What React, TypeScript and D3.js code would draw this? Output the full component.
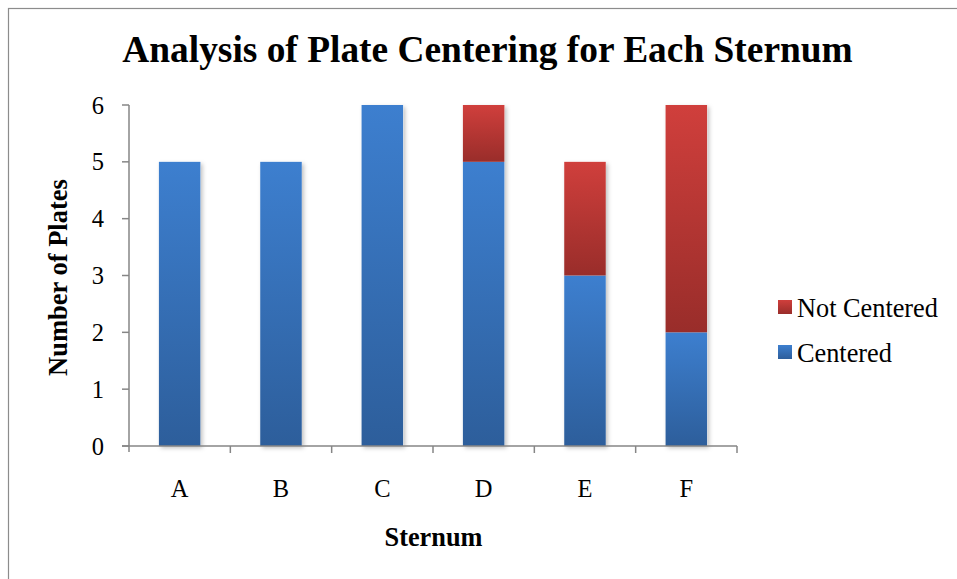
import React, { useEffect, useRef } from "react";
import * as d3 from "d3";

const categories = ["A", "B", "C", "D", "E", "F"];
const centered = [5, 5, 6, 5, 3, 2];
const notCentered = [0, 0, 0, 1, 2, 4];
const yTicks = [0, 1, 2, 3, 4, 5, 6];
const seriesNames = ["Centered", "Not Centered"];

const width = 957;
const height = 579;
const serif = "'Liberation Serif', 'Times New Roman', serif";

const App = () => {
  const ref = useRef<SVGSVGElement>(null);

  useEffect(() => {
    const svg = d3.select(ref.current);
    svg.selectAll("*").remove();

    const defs = svg.append("defs");
    const grad = (id: string, top: string, bottom: string) => {
      const g = defs
        .append("linearGradient")
        .attr("id", id)
        .attr("x1", 0)
        .attr("y1", 0)
        .attr("x2", 0)
        .attr("y2", 1);
      g.append("stop").attr("offset", "0%").attr("stop-color", top);
      g.append("stop").attr("offset", "100%").attr("stop-color", bottom);
    };
    grad("blueGrad", "#3d7fcf", "#2d5e9b");
    grad("redGrad", "#d03f3c", "#992d2a");

    const shadow = defs
      .append("filter")
      .attr("id", "barShadow")
      .attr("x", "-20%")
      .attr("y", "-5%")
      .attr("width", "150%")
      .attr("height", "115%");
    shadow
      .append("feDropShadow")
      .attr("dx", 2)
      .attr("dy", 2)
      .attr("stdDeviation", 2)
      .attr("flood-color", "#000")
      .attr("flood-opacity", 0.25);

    // outer frame
    svg
      .append("rect")
      .attr("x", 8.5)
      .attr("y", 8.5)
      .attr("width", width + 20)
      .attr("height", height + 20)
      .attr("fill", "white")
      .attr("stroke", "#8c8c8c")
      .attr("stroke-width", 1.2);

    const x0 = 129;
    const x1 = 737;
    const yBottom = 446;
    const yTop = 105;

    const x = d3.scaleBand<string>().domain(categories).range([x0, x1]).paddingInner(0.59).paddingOuter(0.295);
    const band = d3.scaleBand<string>().domain(categories).range([x0, x1]);
    const y = d3.scaleLinear().domain([0, 6]).range([yBottom, yTop]);

    // title
    svg
      .append("text")
      .attr("x", 487.5)
      .attr("y", 62)
      .attr("text-anchor", "middle")
      .attr("font-family", serif)
      .attr("font-weight", "bold")
      .attr("font-size", 37.4)
      .text("Analysis of Plate Centering for Each Sternum");

    // bars
    const stackData = categories.map((c, i) => ({ cat: c, Centered: centered[i], "Not Centered": notCentered[i] }));
    const stack = d3.stack<any>().keys(seriesNames)(stackData);
    const fills = ["url(#blueGrad)", "url(#redGrad)"];

    const totals = categories.map((_, i) => centered[i] + notCentered[i]);
    svg
      .append("g")
      .selectAll("rect")
      .data(categories)
      .enter()
      .append("rect")
      .attr("x", (d) => x(d)!)
      .attr("width", x.bandwidth())
      .attr("y", (_, i) => y(totals[i]))
      .attr("height", (_, i) => y(0) - y(totals[i]))
      .attr("fill", "white")
      .attr("filter", "url(#barShadow)");

    stack.forEach((layer, li) => {
      svg
        .append("g")
        .selectAll("rect")
        .data(layer.filter((d) => d[1] - d[0] > 0))
        .enter()
        .append("rect")
        .attr("x", (d) => x(d.data.cat)!)
        .attr("width", x.bandwidth())
        .attr("y", (d) => y(d[1]))
        .attr("height", (d) => y(d[0]) - y(d[1]))
        .attr("fill", fills[li]);
    });

    // y axis
    const axisColor = "#868686";
    svg
      .append("line")
      .attr("x1", x0)
      .attr("x2", x0)
      .attr("y1", yTop)
      .attr("y2", yBottom + 6)
      .attr("stroke", axisColor)
      .attr("stroke-width", 1.5);
    yTicks.forEach((t) => {
      svg
        .append("line")
        .attr("x1", x0 - 7)
        .attr("x2", x0)
        .attr("y1", y(t))
        .attr("y2", y(t))
        .attr("stroke", axisColor)
        .attr("stroke-width", 1.5);
      svg
        .append("text")
        .attr("x", 104)
        .attr("y", y(t) + 8.5)
        .attr("text-anchor", "end")
        .attr("font-family", serif)
        .attr("font-size", 24.5)
        .text(t);
    });

    // x axis
    svg
      .append("line")
      .attr("x1", x0 - 7)
      .attr("x2", x1)
      .attr("y1", yBottom)
      .attr("y2", yBottom)
      .attr("stroke", axisColor)
      .attr("stroke-width", 1.5);
    categories.forEach((c) => {
      const right = band(c)! + band.bandwidth();
      svg
        .append("line")
        .attr("x1", right)
        .attr("x2", right)
        .attr("y1", yBottom)
        .attr("y2", yBottom + 7)
        .attr("stroke", axisColor)
        .attr("stroke-width", 1.5);
      svg
        .append("text")
        .attr("x", band(c)! + band.bandwidth() / 2)
        .attr("y", 497)
        .attr("text-anchor", "middle")
        .attr("font-family", serif)
        .attr("font-size", 24.5)
        .text(c);
    });

    // axis titles
    svg
      .append("text")
      .attr("x", 433.5)
      .attr("y", 546)
      .attr("text-anchor", "middle")
      .attr("font-family", serif)
      .attr("font-weight", "bold")
      .attr("font-size", 26.3)
      .text("Sternum");
    svg
      .append("text")
      .attr("transform", `translate(67, 277.5) rotate(-90)`)
      .attr("text-anchor", "middle")
      .attr("font-family", serif)
      .attr("font-weight", "bold")
      .attr("font-size", 26.5)
      .text("Number of Plates");

    // legend
    const legendItems = [
      { name: "Not Centered", fill: fills[1], y: 317 },
      { name: "Centered", fill: fills[0], y: 362 },
    ];
    legendItems.forEach((item) => {
      svg
        .append("rect")
        .attr("x", 778)
        .attr("y", item.y - 17)
        .attr("width", 14)
        .attr("height", 14)
        .attr("fill", item.fill);
      svg
        .append("text")
        .attr("x", 797)
        .attr("y", item.y)
        .attr("font-family", serif)
        .attr("font-size", 26.3)
        .text(item.name);
    });
  }, []);

  return (
    <svg
      ref={ref}
      width={width}
      height={height}
      style={{ position: "absolute", left: 0, top: 0, background: "white" }}
    />
  );
};

export default App;
